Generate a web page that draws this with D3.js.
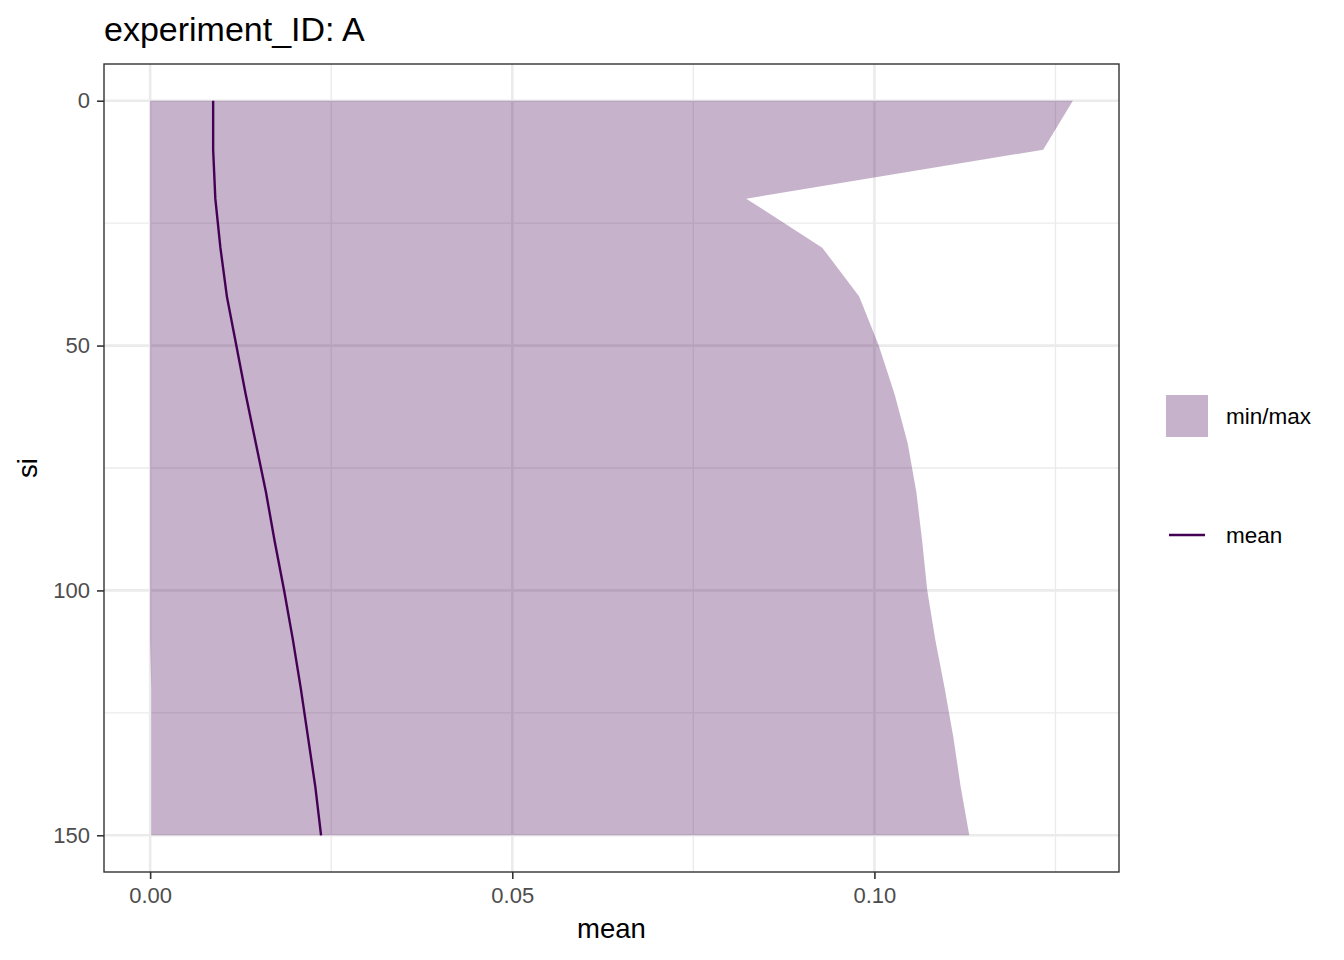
<!DOCTYPE html>
<html>
<head>
<meta charset="utf-8">
<script src="https://cdn.jsdelivr.net/npm/d3@7"></script>
<style>
  body { margin: 0; background: #fff; }
  svg { font-family: "Liberation Sans", Arial, sans-serif; }
</style>
</head>
<body>
<div id="chart"></div>
<script>
// depth index (si) and summary series
var siValues = [0, 10, 20, 30, 40, 50, 60, 70, 80, 90, 100, 110, 120, 130, 140, 150];
var meanValues = [0.0087, 0.0087, 0.0090, 0.0097, 0.0106, 0.0119, 0.0132, 0.0146,
    0.0160, 0.0172, 0.0185, 0.0197, 0.0208, 0.0218, 0.0228, 0.0236];
var minValues = [0, 0, 0, 0, 0, 0, 0, 0, 0, 0, 0, 0, 0.00015, 0.00015, 0.00015, 0.00015];
var maxValues = [0.1274, 0.1233, 0.0823, 0.0928, 0.0979, 0.1006, 0.1028, 0.1046,
    0.1058, 0.1066, 0.1073, 0.1084, 0.1097, 0.1109, 0.1119, 0.1131];
var xTicks = [0, 0.05, 0.10];
var xMinorTicks = [0.025, 0.075, 0.125];
var yTicks = [0, 50, 100, 150];
var yMinorTicks = [25, 75, 125];
var legendLabels = ["min/max", "mean"];

var width = 1344, height = 960;
var panel = { left: 104, right: 1119, top: 64, bottom: 872 };
var meanColor = "#440154";
var ribbonColor = "#440154";

var svg = d3.select("#chart").append("svg")
    .attr("width", width)
    .attr("height", height);

var data = siValues.map(function (s, i) {
    return { si: s, mean: meanValues[i], min: minValues[i], max: maxValues[i] };
});

// ggplot-style 5% expansion on both axes
var xMax = d3.max(maxValues), xMin = 0;
var xPad = (xMax - xMin) * 0.05;
var x = d3.scaleLinear()
    .domain([xMin - xPad, xMax + xPad])
    .range([panel.left, panel.right]);

var yPad = (150 - 0) * 0.05;
var y = d3.scaleLinear()
    .domain([0 - yPad, 150 + yPad])
    .range([panel.top, panel.bottom]);

// grid
var grid = svg.append("g");
grid.selectAll(".xminor").data(xMinorTicks).enter().append("line")
    .attr("x1", x).attr("x2", x)
    .attr("y1", panel.top).attr("y2", panel.bottom)
    .attr("stroke", "#ebebeb").attr("stroke-width", 1.4);
grid.selectAll(".yminor").data(yMinorTicks).enter().append("line")
    .attr("y1", y).attr("y2", y)
    .attr("x1", panel.left).attr("x2", panel.right)
    .attr("stroke", "#ebebeb").attr("stroke-width", 1.4);
grid.selectAll(".xmajor").data(xTicks).enter().append("line")
    .attr("x1", x).attr("x2", x)
    .attr("y1", panel.top).attr("y2", panel.bottom)
    .attr("stroke", "#ebebeb").attr("stroke-width", 2.6);
grid.selectAll(".ymajor").data(yTicks).enter().append("line")
    .attr("y1", y).attr("y2", y)
    .attr("x1", panel.left).attr("x2", panel.right)
    .attr("stroke", "#ebebeb").attr("stroke-width", 2.6);

// ribbon (min/max)
var ribbon = d3.area()
    .y(function (d) { return y(d.si); })
    .x0(function (d) { return x(d.min); })
    .x1(function (d) { return x(d.max); });

svg.append("path")
    .datum(data)
    .attr("d", ribbon)
    .attr("fill", ribbonColor)
    .attr("fill-opacity", 0.3);

// mean line
var meanLine = d3.line()
    .x(function (d) { return x(d.mean); })
    .y(function (d) { return y(d.si); });

svg.append("path")
    .datum(data)
    .attr("d", meanLine)
    .attr("fill", "none")
    .attr("stroke", meanColor)
    .attr("stroke-width", 2.4);

// panel border
svg.append("rect")
    .attr("x", panel.left).attr("y", panel.top)
    .attr("width", panel.right - panel.left)
    .attr("height", panel.bottom - panel.top)
    .attr("fill", "none")
    .attr("stroke", "#333333")
    .attr("stroke-width", 1.4);

// axes
var xAxis = svg.append("g")
    .attr("transform", "translate(0," + panel.bottom + ")")
    .call(d3.axisBottom(x).tickValues(xTicks).tickFormat(d3.format(".2f"))
        .tickSizeInner(7).tickSizeOuter(0).tickPadding(8));
var yAxis = svg.append("g")
    .attr("transform", "translate(" + panel.left + ",0)")
    .call(d3.axisLeft(y).tickValues(yTicks).tickFormat(d3.format("d"))
        .tickSizeInner(7).tickSizeOuter(0).tickPadding(7));

[xAxis, yAxis].forEach(function (ax) {
    ax.select(".domain").remove();
    ax.selectAll(".tick line").attr("stroke", "#333333").attr("stroke-width", 1.6);
    ax.selectAll(".tick text")
        .attr("fill", "#4d4d4d")
        .style("font-size", "22px");
});

// titles
svg.append("text")
    .attr("x", panel.left)
    .attr("y", 41)
    .style("font-size", "34px")
    .attr("fill", "#000")
    .text("experiment_ID: A");

svg.append("text")
    .attr("x", (panel.left + panel.right) / 2)
    .attr("y", 938)
    .attr("text-anchor", "middle")
    .style("font-size", "27.5px")
    .text("mean");

svg.append("text")
    .attr("transform", "translate(37," + (panel.top + panel.bottom) / 2 + ") rotate(-90)")
    .attr("text-anchor", "middle")
    .style("font-size", "27.5px")
    .text("si");

// legend
var legend = svg.append("g").attr("transform", "translate(1166,395)");
legend.append("rect")
    .attr("x", 0).attr("y", 0)
    .attr("width", 42).attr("height", 42)
    .attr("fill", ribbonColor).attr("fill-opacity", 0.3);
legend.append("line")
    .attr("x1", 3).attr("x2", 39)
    .attr("y1", 140).attr("y2", 140)
    .attr("stroke", meanColor).attr("stroke-width", 2.4);
legend.selectAll(".lab").data(legendLabels).enter().append("text")
    .attr("x", 60)
    .attr("y", function (d, i) { return i === 0 ? 28.5 : 147.5; })
    .style("font-size", "22.5px")
    .text(function (d) { return d; });
</script>
</body>
</html>
